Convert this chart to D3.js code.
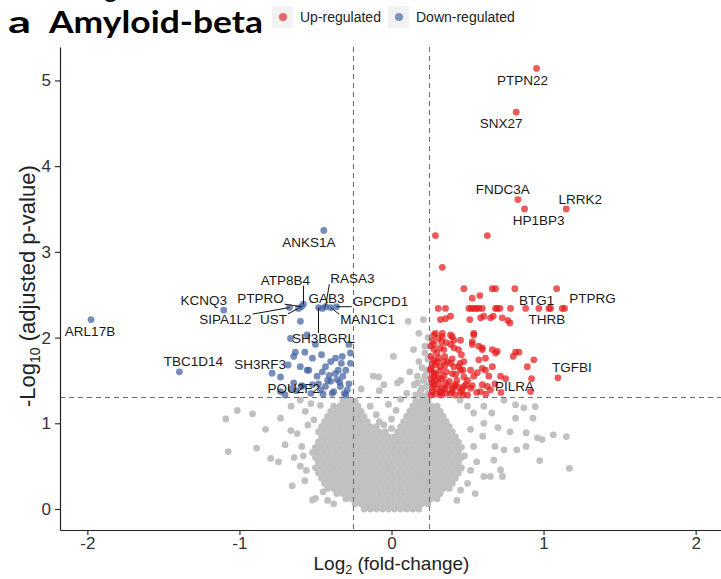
<!DOCTYPE html>
<html>
<head>
<meta charset="utf-8">
<script src="https://cdn.jsdelivr.net/npm/d3@7"></script>
<style>
  body { margin: 0; background: #fff; }
  text { font-family: "Liberation Sans", Arial, Helvetica, sans-serif; }
</style>
</head>
<body>
<div id="chart"></div>
<script>
// ---------------- data (log2 fold-change, -log10 adjusted p) ----------------
var xTicks = [-2, -1, 0, 1, 2];
var yTicks = [0, 1, 2, 3, 4, 5];
var fcCut = 0.25;
var padjCut = 0.05;

// labelled genes
var upLabeled = [
    ["PTPN22", 0.954, 5.14],
    ["SNX27", 0.82, 4.63],
    ["FNDC3A", 0.831, 3.61],
    ["HP1BP3", 0.875, 3.50],
    ["LRRK2", 1.149, 3.50],
    ["BTG1", 0.882, 2.34],
    ["PTPRG", 1.138, 2.34],
    ["THRB", 1.035, 2.34],
    ["TGFBI", 1.094, 1.53],
    ["PILRA", 0.651, 1.39]
];
var downLabeled = [
    ["ANKS1A", -0.445, 3.25],
    ["ARL17B", -1.976, 2.21],
    ["KCNQ3", -1.103, 2.32],
    ["TBC1D14", -1.395, 1.60],
    ["SH3RF3", -0.68, 1.68],
    ["POU2F2", -0.59, 1.44],
    ["SIPA1L2", -0.671, 2.35],
    ["UST", -0.612, 2.34],
    ["PTPRO", -0.592, 2.36],
    ["ATP8B4", -0.579, 2.39],
    ["SH3BGRL", -0.48, 2.35],
    ["GAB3", -0.454, 2.34],
    ["RASA3", -0.434, 2.36],
    ["MAN1C1", -0.401, 2.35],
    ["GPCPD1", -0.362, 2.36]
];

// other up-regulated genes
var upPoints = [
    [0.289, 3.19], [0.63, 3.19], [0.334, 2.82],
    [0.476, 2.57], [0.663, 2.57], [0.684, 2.57], [0.811, 2.57], [1.086, 2.57],
    [0.531, 2.46], [0.581, 2.49],
    [0.307, 2.34], [0.355, 2.34], [0.509, 2.34], [0.524, 2.34], [0.542, 2.34], [0.559, 2.34],
    [0.574, 2.34], [0.597, 2.34], [0.684, 2.34], [0.695, 2.34], [0.713, 2.34], [0.783, 2.34],
    [0.969, 2.34], [1.046, 2.34], [1.123, 2.34],
    [0.322, 2.21], [0.355, 2.22], [0.388, 2.25], [0.515, 2.21], [0.586, 2.23], [0.607, 2.25],
    [0.651, 2.23], [0.669, 2.25], [0.728, 2.23], [0.765, 2.20], [0.778, 2.17],
    [0.289, 2.05], [0.334, 2.05], [0.399, 2.01], [0.454, 1.97], [0.541, 2.05], [0.531, 1.95],
    [0.257, 1.90], [0.322, 1.88], [0.41, 1.88], [0.531, 1.92], [0.574, 1.90], [0.597, 1.86],
    [0.663, 1.86], [0.695, 1.84], [0.816, 1.83], [0.838, 1.83],
    [0.278, 1.74], [0.344, 1.72], [0.399, 1.75], [0.476, 1.72], [0.574, 1.74], [0.618, 1.76], [0.936, 1.74],
    [0.257, 1.62], [0.322, 1.66], [0.41, 1.66], [0.454, 1.62], [0.52, 1.62], [0.618, 1.62], [0.663, 1.66], [0.893, 1.66],
    [0.278, 1.55], [0.344, 1.55], [0.421, 1.57], [0.476, 1.54], [0.541, 1.55], [0.64, 1.55], [0.717, 1.55], [0.921, 1.52],
    [0.278, 1.45], [0.355, 1.47], [0.421, 1.45], [0.476, 1.43], [0.531, 1.44], [0.597, 1.45], [0.63, 1.43],
    [0.268, 1.37], [0.322, 1.37], [0.399, 1.37], [0.454, 1.36], [0.914, 1.37],
    [0.278, 2.03], [0.334, 2.01], [0.388, 2.03], [0.541, 2.03], [0.597, 1.88], [0.684, 1.82],
    [0.344, 1.86], [0.301, 1.72], [0.388, 1.70], [0.443, 1.66], [0.597, 1.64], [0.564, 1.59],
    [0.278, 1.59], [0.334, 1.41], [0.41, 1.43], [0.465, 1.39], [0.52, 1.41], [0.585, 1.37],
    [0.388, 1.35], [0.322, 1.35],
    [0.26, 1.33], [0.27, 1.48], [0.29, 1.68], [0.26, 1.78], [0.31, 1.53], [0.30, 1.82],
    [0.27, 1.96], [0.36, 1.60], [0.38, 1.49], [0.30, 1.40], [0.35, 1.78], [0.39, 1.92],
    [0.28, 1.86], [0.33, 1.95], [0.46, 1.80], [0.50, 1.50], [0.42, 1.33], [0.50, 1.33],
    [0.56, 1.36], [0.62, 1.34], [0.68, 1.46], [0.72, 1.36], [0.75, 1.52], [0.80, 1.78],
    [0.27, 1.42], [0.29, 1.34], [0.31, 1.46], [0.33, 1.52], [0.35, 1.40], [0.37, 1.44],
    [0.29, 1.58], [0.32, 1.61], [0.35, 1.67], [0.27, 1.70], [0.31, 1.76], [0.37, 1.72],
    [0.40, 1.58], [0.43, 1.50], [0.45, 1.70], [0.28, 1.92], [0.31, 1.99], [0.36, 1.94],
    [0.41, 1.97], [0.44, 1.86], [0.47, 1.62], [0.49, 1.45], [0.26, 1.52], [0.26, 1.64],
    [0.29, 1.50], [0.33, 1.33], [0.36, 1.35], [0.40, 1.40], [0.44, 1.42], [0.47, 1.33]
];

// other down-regulated genes
var downPoints = [
    [-0.599, 2.19], [-0.664, 1.99], [-0.555, 2.03], [-0.632, 1.83], [-0.643, 1.78], [-0.52, 1.76],
    [-0.434, 1.66], [-0.368, 1.76], [-0.324, 1.78], [-0.27, 1.82], [-0.27, 1.70], [-0.785, 1.585],
    [-0.73, 1.54], [-0.544, 1.62], [-0.489, 1.55], [-0.41, 1.56], [-0.40, 1.49], [-0.357, 1.51],
    [-0.336, 1.43], [-0.434, 1.43], [-0.38, 1.37], [-0.29, 1.39], [-0.467, 1.39], [-0.52, 1.45],
    [-0.32, 1.55], [-0.455, 1.60], [-0.555, 1.62], [-0.643, 1.47], [-0.588, 1.43], [-0.39, 1.35],
    [-0.73, 1.37], [-0.625, 1.38], [-0.53, 1.35], [-0.30, 1.33], [-0.35, 1.62], [-0.28, 1.92],
    [-0.50, 1.92], [-0.57, 1.83],
    [-0.28, 1.46], [-0.31, 1.35], [-0.34, 1.48], [-0.37, 1.58], [-0.42, 1.50], [-0.45, 1.34],
    [-0.48, 1.46], [-0.30, 1.62], [-0.33, 1.70], [-0.40, 1.72], [-0.46, 1.80], [-0.60, 1.66],
    [-0.66, 1.40], [-0.70, 1.33]
];

// not significant: dense core read row by row [y, [x...]]
var grayCoreRows = [
    [0.00, [-.18, -.14, -.1, -.06, -.02, .02, .06, .1, .14, .18]],
    [0.06, [-.24, -.2, -.16, -.12, -.08, -.04, 0, .04, .08, .12, .16, .2, .24]],
    [0.12, [-.3, -.26, -.22, -.18, -.14, -.1, -.06, -.02, .02, .06, .1, .14, .18, .22, .26, .3]],
    [0.18, [-.36, -.32, -.28, -.24, -.2, -.16, -.12, -.08, -.04, 0, .04, .08, .12, .16, .2, .24, .28, .32]],
    [0.24, [-.42, -.38, -.34, -.3, -.26, -.22, -.18, -.14, -.1, -.06, -.02, .02, .06, .1, .14, .18, .22, .26, .3, .34, .38]],
    [0.30, [-.44, -.4, -.36, -.32, -.28, -.24, -.2, -.16, -.12, -.08, -.04, 0, .04, .08, .12, .16, .2, .24, .28, .32, .36, .4]],
    [0.36, [-.46, -.42, -.38, -.34, -.3, -.26, -.22, -.18, -.14, -.1, -.06, -.02, .02, .06, .1, .14, .18, .22, .26, .3, .34, .38, .42]],
    [0.42, [-.48, -.44, -.4, -.36, -.32, -.28, -.24, -.2, -.16, -.12, -.08, -.04, 0, .04, .08, .12, .16, .2, .24, .28, .32, .36, .4, .44]],
    [0.48, [-.5, -.46, -.42, -.38, -.34, -.3, -.26, -.22, -.18, -.14, -.1, -.06, -.02, .02, .06, .1, .14, .18, .22, .26, .3, .34, .38, .42, .46]],
    [0.54, [-.48, -.44, -.4, -.36, -.32, -.28, -.24, -.2, -.16, -.12, -.08, -.04, 0, .04, .08, .12, .16, .2, .24, .28, .32, .36, .4, .44]],
    [0.60, [-.5, -.46, -.42, -.38, -.34, -.3, -.26, -.22, -.18, -.14, -.1, -.06, -.02, .02, .06, .1, .14, .18, .22, .26, .3, .34, .38, .42, .46]],
    [0.66, [-.52, -.48, -.44, -.4, -.36, -.32, -.28, -.24, -.2, -.16, -.12, -.08, -.04, 0, .04, .08, .12, .16, .2, .24, .28, .32, .36, .4, .44]],
    [0.72, [-.5, -.46, -.42, -.38, -.34, -.3, -.26, -.22, -.18, -.14, -.1, -.06, -.02, .02, .06, .1, .14, .18, .22, .26, .3, .34, .38, .42, .46]],
    [0.78, [-.48, -.44, -.4, -.36, -.32, -.28, -.24, -.2, -.16, -.12, -.08, -.04, 0, .04, .08, .12, .16, .2, .24, .28, .32, .36, .4, .44]],
    [0.84, [-.46, -.42, -.38, -.34, -.3, -.26, -.22, -.18, -.14, -.1, -.06, -.02, .02, .06, .1, .14, .18, .22, .26, .3, .34, .38, .42]],
    [0.90, [-.48, -.44, -.4, -.36, -.32, -.28, -.24, -.2, -.16, -.12, -.08, -.04, .04, .08, .12, .16, .2, .24, .28, .32, .36, .4]],
    [0.96, [-.46, -.42, -.38, -.34, -.3, -.26, -.22, -.18, -.14, -.1, .06, .1, .14, .18, .22, .26, .3, .34, .38]],
    [1.02, [-.44, -.4, -.36, -.32, -.28, -.24, -.2, -.16, .08, .12, .16, .2, .24, .28, .32, .36]],
    [1.08, [-.42, -.38, -.34, -.3, -.26, -.22, -.18, .1, .14, .18, .22, .26, .3, .34]],
    [1.14, [-.4, -.36, -.32, -.28, -.24, -.2, .12, .16, .2, .24, .28, .32]],
    [1.20, [-.38, -.34, -.3, -.26, -.22, .14, .18, .22, .26, .3]],
    [1.26, [-.32, -.28, -.24, .16, .2, .24]]
];

// not significant: scattered genes
var grayScatter = [
    [-1.09, 1.05], [-1.014, 1.15], [-0.914, 1.11], [-1.074, 0.67], [-0.887, 0.71], [-0.828, 0.93],
    [-0.794, 0.59], [-0.743, 0.55], [-0.662, 0.915], [-0.653, 0.27], [-0.50, 0.125], [-0.73, 1.06],
    [-0.62, 0.88], [-0.59, 0.73], [-0.566, 1.14], [-0.52, 0.105], [-0.51, 1.04], [-0.467, 1.21],
    [-0.53, 1.23], [-0.60, 1.27], [-0.58, 0.62], [-0.56, 0.45], [-0.60, 0.50], [-0.57, 0.33],
    [-0.55, 0.98], [-0.66, 1.20], [-0.70, 0.75], [-0.64, 0.60], [-0.45, 0.20], [-0.42, 0.10], [-0.38, 0.06],
    [0.96, 0.83], [1.064, 0.865], [1.15, 0.845], [1.17, 0.475], [0.975, 0.565], [0.885, 0.73],
    [0.824, 0.69], [0.93, 1.06], [0.945, 1.195], [0.885, 0.89], [0.99, 0.81], [0.87, 1.18],
    [0.816, 1.215], [0.816, 1.06], [0.717, 0.455], [0.73, 0.38], [0.673, 0.57], [0.607, 0.38],
    [0.65, 0.38], [0.74, 0.69], [0.68, 0.73], [0.607, 1.0], [0.66, 1.12], [0.607, 1.2],
    [0.74, 1.27], [0.54, 0.73], [0.52, 0.93], [0.54, 1.12], [0.454, 0.22], [0.43, 0.10],
    [0.50, 0.30], [0.56, 0.55], [0.60, 0.85], [0.50, 1.20], [0.45, 1.27], [0.70, 0.95],
    [0.78, 0.90], [0.55, 0.18], [0.48, 0.62], [0.52, 0.45],
    [-0.05, 0.98], [0.0, 1.05], [-0.10, 1.10], [0.03, 1.15], [-0.02, 1.22], [0.06, 1.28],
    [-0.14, 1.20], [0.0, 0.94], [-0.08, 1.02],
    [0.11, 2.19], [0.21, 2.21], [0.013, 1.78], [0.145, 1.86], [0.17, 1.55], [-0.085, 1.54],
    [0.23, 1.43], [0.22, 1.55], [0.20, 1.65], [0.24, 1.75], [0.18, 1.72], [0.12, 1.60],
    [0.15, 1.45], [0.19, 1.38], [0.24, 1.35], [0.10, 1.35], [0.06, 1.50], [-0.05, 1.45],
    [-0.08, 1.38], [0.22, 1.90], [0.24, 2.00], [0.18, 2.05], [-0.20, 1.40], [-0.12, 1.55],
    [0.20, 1.32], [0.16, 1.33], [0.23, 1.30], [0.04, 1.47], [0.17, 1.47], [0.20, 1.41],
    [0.21, 1.50], [0.23, 1.62], [0.22, 1.82], [0.24, 1.46]
];

// ---------------- layout of gene labels (pixel offsets from the point) ----------------
var labelNudge = {
    PTPN22: [-14, 12], SNX27: [-15, 11], FNDC3A: [-15, -10], HP1BP3: [14, 11], LRRK2: [14, -10],
    BTG1: [11, -8], PTPRG: [28, -10], THRB: [-2, 11], TGFBI: [14, -10], PILRA: [24, -3],
    ANKS1A: [-15, 12], ARL17B: [-1, 12], KCNQ3: [-20, -10], TBC1D14: [14, -10], SH3RF3: [-28, -1],
    POU2F2: [-8, 3], SIPA1L2: [-64, 12], UST: [-25, 11], PTPRO: [-41, -8], ATP8B4: [-18, -24],
    SH3BGRL: [5, 31], GAB3: [4, -10], RASA3: [27, -28], MAN1C1: [37, 12], GPCPD1: [44, -5]
};
var withSegment = ["SIPA1L2", "UST", "PTPRO", "ATP8B4", "SH3BGRL", "RASA3", "MAN1C1", "GPCPD1"];

function VolcanoView() {
    var width = 721, height = 579,
        left = 60, right = 723, top = 47, bottom = 530,
        upColor = "#E41A1C", downColor = "#3C5DA0", nsColor = "#C0C0C0",
        radius = 3.4;

    function chart(selection) {
        selection.each(function() {
            var svg = d3.select(this).append("svg")
                .attr("width", width)
                .attr("height", height);

            var x = d3.scaleLinear().domain([-2.18, 2.18]).range([left, right]);
            var y = d3.scaleLinear().domain([-0.245, 5.39]).range([bottom, top]);

            // title (the "g" is the tail of a caption cropped off above)
            svg.append("text").attr("x", 104).attr("y", -3)
                .style("font-family", "Lato, sans-serif").style("font-size", "26px").text("g");
            svg.append("text").attr("x", 8).attr("y", 33)
                .style("font-family", "Lato, sans-serif").style("font-weight", "bold")
                .style("font-size", "31px").attr("textLength", 23).attr("lengthAdjust", "spacingAndGlyphs")
                .text("a");
            svg.append("text").attr("x", 49).attr("y", 33)
                .style("font-family", "Lato, sans-serif").style("font-weight", "bold")
                .style("font-size", "31px").attr("textLength", 214).attr("lengthAdjust", "spacingAndGlyphs")
                .text("Amyloid-beta");

            // legend
            var legend = [["Up-regulated", upColor, 272], ["Down-regulated", downColor, 388]];
            var lg = svg.append("g").selectAll("g").data(legend).enter().append("g")
                .attr("transform", function(d) { return "translate(" + d[2] + ",0)"; });
            lg.append("rect").attr("x", 0).attr("y", 6).attr("width", 21).attr("height", 22)
                .attr("fill", "#F2F2F2");
            lg.append("circle").attr("cx", 11).attr("cy", 17).attr("r", 4)
                .attr("fill", function(d) { return d[1]; }).attr("fill-opacity", 0.65);
            lg.append("text").attr("x", 28).attr("y", 22)
                .style("font-size", "14px").attr("fill", "#222")
                .text(function(d) { return d[0]; });

            // points
            var gray = [];
            grayCoreRows.forEach(function(r) {
                r[1].forEach(function(v) { gray.push([v, r[0]]); });
            });
            gray = gray.concat(grayScatter);

            svg.append("g").selectAll("circle").data(gray).enter().append("circle")
                .attr("cx", function(d) { return x(d[0]); })
                .attr("cy", function(d) { return y(d[1]); })
                .attr("r", radius)
                .attr("fill", nsColor);

            var down = downPoints.concat(downLabeled.map(function(d) { return [d[1], d[2]]; }));
            svg.append("g").selectAll("circle").data(down).enter().append("circle")
                .attr("cx", function(d) { return x(d[0]); })
                .attr("cy", function(d) { return y(d[1]); })
                .attr("r", radius)
                .attr("fill", downColor).attr("fill-opacity", 0.7);

            var up = upPoints.concat(upLabeled.map(function(d) { return [d[1], d[2]]; }));
            svg.append("g").selectAll("circle").data(up).enter().append("circle")
                .attr("cx", function(d) { return x(d[0]); })
                .attr("cy", function(d) { return y(d[1]); })
                .attr("r", radius)
                .attr("fill", upColor).attr("fill-opacity", 0.72);

            // thresholds
            var guides = svg.append("g").attr("stroke", "#6E6E6E").attr("stroke-width", 1.1)
                .attr("stroke-dasharray", "5,4").attr("fill", "none");
            [-fcCut, fcCut].forEach(function(v) {
                guides.append("line").attr("x1", x(v)).attr("x2", x(v)).attr("y1", top).attr("y2", bottom);
            });
            guides.append("line").attr("x1", left).attr("x2", right)
                .attr("y1", y(-Math.log10(padjCut))).attr("y2", y(-Math.log10(padjCut)));

            // axes
            var gx = svg.append("g").attr("transform", "translate(0," + bottom + ")")
                .call(d3.axisBottom(x).tickValues(xTicks).tickFormat(d3.format("d"))
                    .tickSize(5).tickSizeOuter(0).tickPadding(2));
            var gy = svg.append("g").attr("transform", "translate(" + left + ",0)")
                .call(d3.axisLeft(y).tickValues(yTicks).tickFormat(d3.format("d"))
                    .tickSize(5).tickSizeOuter(0).tickPadding(4));
            [gx, gy].forEach(function(g) {
                g.select(".domain").attr("stroke", "#222").attr("stroke-width", 1.2);
                g.selectAll(".tick line").attr("stroke", "#222").attr("stroke-width", 1.1);
                g.selectAll(".tick text").attr("fill", "#333")
                    .style("font-family", "'Liberation Sans', Arial, sans-serif").style("font-size", "17px");
            });
            // ggplot writes minus as a plain hyphen
            gx.selectAll(".tick text").text(function(d) { return String(d); });

            // axis titles
            var xt = svg.append("text").attr("x", x(0)).attr("y", 570)
                .attr("text-anchor", "middle").attr("fill", "#222").style("font-size", "19px");
            xt.append("tspan").text("Log");
            xt.append("tspan").attr("dy", 4).style("font-size", "12.5px").text("2");
            xt.append("tspan").attr("dy", -4).text(" (fold-change)");

            var yt = svg.append("text").attr("transform", "translate(35," + y(2.6) + ") rotate(-90)")
                .attr("text-anchor", "middle").attr("fill", "#222").style("font-size", "22px");
            yt.append("tspan").text("-Log");
            yt.append("tspan").attr("dy", 5).style("font-size", "14px").text("10");
            yt.append("tspan").attr("dy", -5).text(" (adjusted p-value)");

            // gene labels
            var labeled = upLabeled.concat(downLabeled);
            var lab = svg.append("g");
            labeled.forEach(function(d) {
                var px = x(d[1]), py = y(d[2]), off = labelNudge[d[0]];
                var t = lab.append("text")
                    .attr("x", px + off[0]).attr("y", py + off[1])
                    .attr("text-anchor", "middle").attr("dominant-baseline", "central")
                    .attr("fill", "#1a1a1a").style("font-size", "13.5px")
                    .text(d[0]);
                if (withSegment.indexOf(d[0]) >= 0) {
                    var b = t.node().getBBox();
                    var cx = Math.max(b.x - 1, Math.min(px, b.x + b.width + 1));
                    var cy = Math.max(b.y + 2, Math.min(py, b.y + b.height - 2));
                    lab.insert("line", "text")
                        .attr("x1", cx).attr("y1", cy).attr("x2", px).attr("y2", py)
                        .attr("stroke", "#111").attr("stroke-width", 1);
                }
            });
        });
    }

    chart.width = function(_) {
        if (!arguments.length) return width;
        width = _;
        return chart;
    };

    chart.height = function(_) {
        if (!arguments.length) return height;
        height = _;
        return chart;
    };

    return chart;
}

d3.select("#chart").call(VolcanoView());
</script>
</body>
</html>
